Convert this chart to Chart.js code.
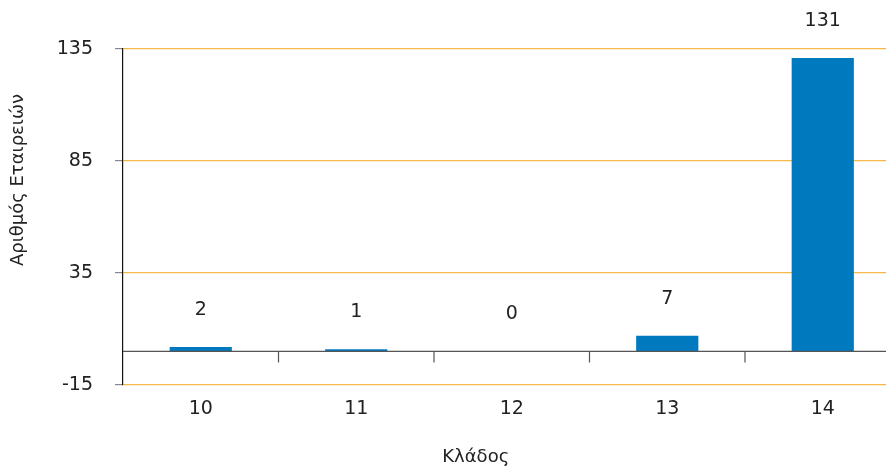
<!DOCTYPE html>
<html>
<head>
<meta charset="utf-8">
<script src="https://cdn.jsdelivr.net/npm/chart.js@4"></script>
<style>
  html, body { margin: 0; padding: 0; background: #fff; overflow: hidden; }
  #wrap { width: 904px; height: 468px; }
</style>
</head>
<body>
<div id="wrap"><canvas id="chart" width="904" height="468"></canvas></div>
<script>
var categories = ['10', '11', '12', '13', '14'];
var companies = [2, 1, 0, 7, 131];
var yTicks = [-15, 35, 85, 135];
var yTitle = 'Αριθμός Εταιρειών';
var xTitle = 'Κλάδος';

var FONT = "'DejaVu Sans', sans-serif";
var TEXT = '#222222';

/* value labels above bars + zero baseline + axis titles */
var extras = {
    id: 'extras',
    afterDatasetsDraw: function(chart) {
        var ctx = chart.ctx;
        var area = chart.chartArea;
        var xs = chart.scales.x;
        var ys = chart.scales.y;
        var y0 = ys.getPixelForValue(0);

        ctx.save();
        // zero line with category separators
        ctx.strokeStyle = '#555555';
        ctx.lineWidth = 1.2;
        ctx.beginPath();
        ctx.moveTo(area.left, y0);
        ctx.lineTo(area.right, y0);
        for (var i = 0; i < categories.length - 1; i++) {
            var bx = (xs.getPixelForValue(i) + xs.getPixelForValue(i + 1)) / 2;
            ctx.moveTo(bx, y0);
            ctx.lineTo(bx, y0 + 11);
        }
        ctx.stroke();

        // value labels
        ctx.fillStyle = TEXT;
        ctx.font = '19px ' + FONT;
        ctx.textAlign = 'center';
        ctx.textBaseline = 'middle';
        chart.getDatasetMeta(0).data.forEach(function(bar, i) {
            ctx.fillText(String(companies[i]), bar.x, bar.y - 37);
        });

        // axis titles
        ctx.font = '18px ' + FONT;
        ctx.fillText(xTitle, (area.left + area.right) / 2 - 36, chart.height - 11);
        ctx.translate(18, area.top + (area.bottom - area.top) * 0.39);
        ctx.rotate(-Math.PI / 2);
        ctx.fillText(yTitle, 0, 0);
        ctx.restore();
    }
};

new Chart(document.getElementById('chart'), {
    type: 'bar',
    data: {
        labels: categories,
        datasets: [{
            data: companies,
            backgroundColor: '#0079bf',
            barPercentage: 0.4,
            categoryPercentage: 1.0
        }]
    },
    options: {
        responsive: false,
        animation: false,
        layout: { padding: { top: 49, right: 3.5, left: 0, bottom: 0 } },
        plugins: { legend: { display: false }, tooltip: { enabled: false } },
        scales: {
            x: {
                grid: { display: false },
                border: { display: false },
                ticks: { color: TEXT, font: { family: FONT, size: 19 }, padding: 5 },
                afterFit: function(s) { s.height = 83; }
            },
            y: {
                min: -15,
                max: 135,
                afterBuildTicks: function(s) {
                    s.ticks = yTicks.map(function(v) { return { value: v }; });
                },
                grid: { color: '#f7b84a', lineWidth: 1.2, tickColor: '#888888', tickLength: 8 },
                border: { display: true, color: '#111111', width: 1.2 },
                ticks: { color: TEXT, font: { family: FONT, size: 19 }, padding: 22 },
                afterFit: function(s) { s.width = 123; }
            }
        }
    },
    plugins: [extras]
});
</script>
</body>
</html>
